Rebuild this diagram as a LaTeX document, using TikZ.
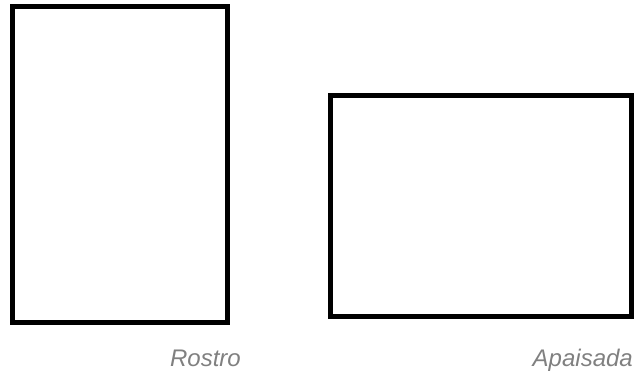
\documentclass[tikz,border=0pt]{standalone}
\usepackage{fontspec}
\setmainfont{Liberation Sans}
\begin{document}
\begin{tikzpicture}[x=1pt,y=-1pt,
  sheet/.style={draw=black,line width=5pt,fill=white},
  caption/.style={font=\fontsize{24}{28}\selectfont\itshape,text=black!50,inner sep=0pt,anchor=base east}]
\useasboundingbox (0,0) rectangle (637,377);
\path[sheet] (12.5,6.5) rectangle (227,322.5);
\path[sheet] (330,96) rectangle (631.5,316);
\node[caption] (rostro) at (241,366) {Rostro};
\node[caption] (apaisada) at (633,366) {Apaisada};
\end{tikzpicture}
\end{document}
